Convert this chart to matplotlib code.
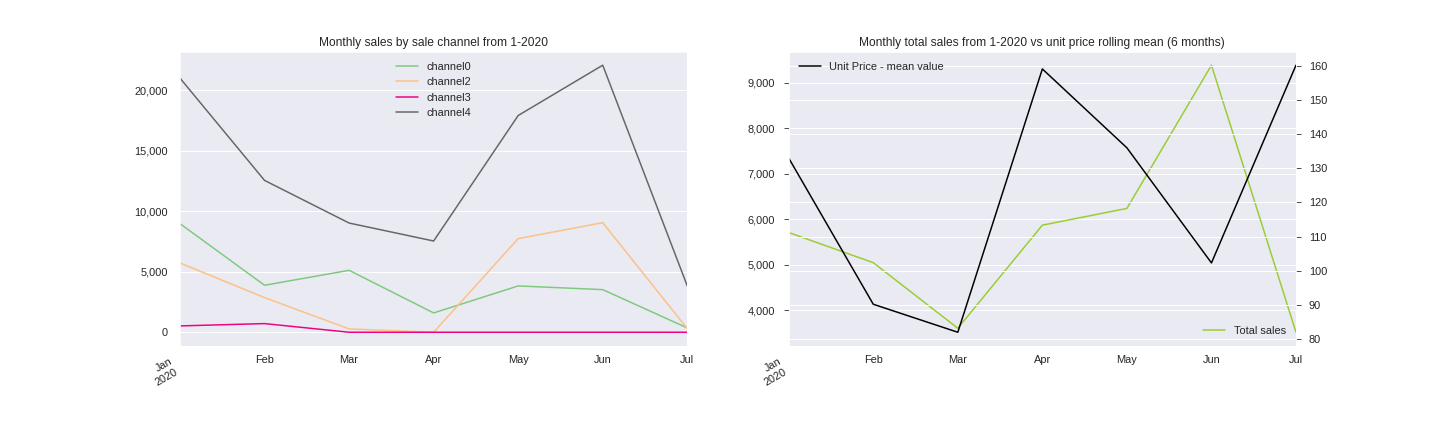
import matplotlib

matplotlib.use("Agg")
import matplotlib.pyplot as plt
import matplotlib.ticker as mticker
import pandas as pd
import seaborn as sns

# Monthly data, Jan 2020 to Jul 2020
months = pd.date_range("2020-01-01", periods=7, freq="MS")
channel0 = [8965, 3880, 5115, 1595, 3825, 3520, 357]
channel2 = [5720, 2860, 275, 0, 7730, 9050, 300]
channel3 = [523, 715, 0, 0, 0, 0, 0]
channel4 = [20985, 12540, 9020, 7535, 17900, 22055, 3825]
total_sales = [5713, 5051, 3610, 5875, 6243, 9390, 3522]
unit_price_mean = [133.0, 90.2, 82.0, 159.1, 136.0, 102.3, 160.2]

sns.set_style("darkgrid")
plt.rcParams["font.family"] = ["Liberation Sans", "DejaVu Sans"]
plt.rcParams["font.size"] = 11
plt.rcParams["axes.titlesize"] = 12
plt.rcParams["xtick.labelsize"] = 11
plt.rcParams["ytick.labelsize"] = 11
plt.rcParams["legend.fontsize"] = 11
plt.rcParams["lines.linewidth"] = 1.5
plt.rcParams["grid.linewidth"] = 1

channels = pd.DataFrame(
    {
        "channel0": channel0,
        "channel2": channel2,
        "channel3": channel3,
        "channel4": channel4,
    },
    index=months,
)
totals = pd.Series(total_sales, index=months, name="Total sales")
prices = pd.Series(unit_price_mean, index=months, name="Unit Price - mean value")

fig, (ax1, ax2) = plt.subplots(1, 2, figsize=(20, 6), dpi=72)

# Left: sales per channel
channels.plot(ax=ax1, colormap="Accent")
ax1.set_title("Monthly sales by sale channel from 1-2020")
ax1.yaxis.set_major_formatter(mticker.StrMethodFormatter("{x:,.0f}"))
ax1.legend(loc="upper center", frameon=False)
ax1.set_xlabel("")

# Right: total sales vs unit price rolling mean
totals.plot(ax=ax2, color="yellowgreen", legend=False)
ax_price = prices.plot(ax=ax2, secondary_y=True, color="black", legend=False)
ax2.yaxis.set_major_formatter(mticker.StrMethodFormatter("{x:,.0f}"))
ax2.legend(ax2.get_lines(), ["Total sales"], loc="lower right", frameon=False)
ax_price.legend(
    ax_price.get_lines(), ["Unit Price - mean value"], loc="upper left", frameon=False
)
ax_price.grid(True, axis="y")
ax_price.tick_params(axis="y", right=True, length=5, width=0.8, color=".15", pad=8)
ax2.tick_params(axis="y", length=5, width=0.8, color=".15")
ax2.set_title("Monthly total sales from 1-2020 vs unit price rolling mean (6 months)")
ax2.set_xlabel("")

for ax in (ax1, ax2):
    ax.tick_params(axis="y", which="major", pad=8.5)
    ax.tick_params(axis="x", which="major", pad=7.5)
    ax.tick_params(axis="x", which="minor", pad=7.4)
    ax.grid(False, axis="x", which="both")

fig.autofmt_xdate()
fig.savefig("out.png", dpi=72)
